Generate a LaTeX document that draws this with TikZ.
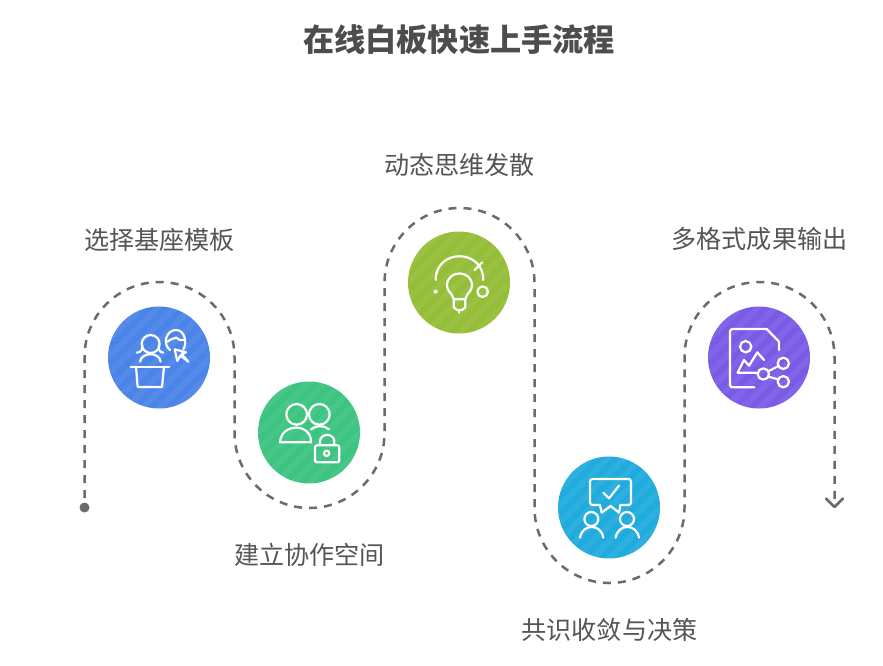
\documentclass[tikz,border=0pt]{standalone}
\usepackage{fontspec}
\setmainfont{Noto Sans CJK SC}
\usetikzlibrary{calc}
\definecolor{txt}{HTML}{555555}
\definecolor{ttl}{HTML}{4D4D4D}
\definecolor{pathc}{HTML}{6B6B6B}
\definecolor{cblue}{HTML}{4A84E8}
\definecolor{cgreen}{HTML}{3CC480}
\definecolor{clime}{HTML}{95BE38}
\definecolor{ccyan}{HTML}{20ABDD}
\definecolor{cpurple}{HTML}{7A5BE6}
\tikzset{
  badge/.style={circle,minimum size=102pt,inner sep=0pt,fill=#1,
    path picture={
      \foreach \d in {-102,-85,...,102}{
        \draw[white,opacity=.06,line width=6pt]
          ($(path picture bounding box.center)+(\d,0)+(-70,70)$) -- ++(140,-140);
      }}},
  lab/.style={text=txt,font=\fontsize{25.1}{30}\selectfont,inner sep=0pt},
  ttlstyle/.style={text=ttl,font=\fontsize{31.2}{36}\selectfont\bfseries,inner sep=0pt},
  route/.style={draw=pathc,line width=2.5pt,dash pattern=on 8pt off 7pt,dash phase=0pt},
  headstyle/.style={draw=pathc,line width=2.6pt,line cap=round,line join=round},
  icon/.style={x=.33333pt,y=-.33333pt,draw=white,line width=2.2pt,line cap=round,line join=round}
}
\begin{document}
\begin{tikzpicture}[x=1pt,y=-1pt]
\useasboundingbox (0,0) rectangle (883,665);
\fill[white] (0,0) rectangle (883,665);
\node[ttlstyle] (title) at (459,39.5) {在线白板快速上手流程};
\node[lab] (l1) at (159.5,239.5) {选择基座模板};
\node[lab] (l2) at (309.5,555) {建立协作空间};
\node[lab] (l3) at (459.5,164.5) {动态思维发散};
\node[lab] (l4) at (609.5,629.5) {共识收敛与决策};
\node[lab] (l5) at (759.5,239.5) {多格式成果输出};

\coordinate (start) at (84.5,507.5);
\coordinate (finish) at (834.5,507);
\draw[route] (84.5,498) -- (84.5,357)
  .. controls +(0,-41.4) and +(-41.4,0) .. (159.5,282)
  .. controls +(41.4,0) and +(0,-41.4) .. (234.5,357)
  -- (234.5,433)
  .. controls +(0,41.4) and +(-41.4,0) .. (309.5,508)
  .. controls +(41.4,0) and +(0,41.4) .. (384.5,433)
  -- (384.5,283)
  .. controls +(0,-41.4) and +(-41.4,0) .. (459.5,208)
  .. controls +(41.4,0) and +(0,-41.4) .. (534.5,283)
  -- (534.5,508)
  .. controls +(0,41.4) and +(-41.4,0) .. (609.5,583)
  .. controls +(41.4,0) and +(0,41.4) .. (684.5,508)
  -- (684.5,357)
  .. controls +(0,-41.4) and +(-41.4,0) .. (759.5,282)
  .. controls +(41.4,0) and +(0,-41.4) .. (834.5,357)
  -- (finish);
\fill[pathc] (start) circle[radius=5pt];
\draw[headstyle] (826,498.5) -- (finish) -- (843,498.5);

\node[badge=cblue] (n1) at (159,357.5) {};
\node[badge=cgreen] (n2) at (309,432.5) {};
\node[badge=clime] (n3) at (459,282.5) {};
\node[badge=ccyan] (n4) at (609,507.5) {};
\node[badge=cpurple] (n5) at (759,357.5) {};

% icon 1
\begin{scope}[shift={(90,290)},icon]
  \draw (182,162) ellipse[x radius=27,y radius=27];
  \draw (140,188) .. controls (155,188) and (158,175) .. (157,165);
  \draw (220,188) .. controls (207,188) and (205,175) .. (207,165);
  \draw (150,215) .. controls (155,185) and (208,185) .. (212,215);
  \draw (122,230) -- (238,230);
  \draw (138,230) -- (143,291) -- (216,291) -- (222,230);
  \draw (240,180) .. controls (215,160) and (230,120) .. (258,120) .. controls (285,120) and (292,160) .. (280,178);
  \draw (232,155) -- (243,148) -- (258,143) -- (270,150) -- (284,150);
  \draw (254,178) -- (262,213) -- (271,197) -- (295,215) -- (275,192) -- (288,187) -- cycle;
\end{scope}

% icon 2
\begin{scope}[shift={(245,370)},icon]
  \draw (155,133) ellipse[x radius=31,y radius=31];
  \draw (105,217) .. controls (108,158) and (200,158) .. (198,217) -- cycle;
  \draw (223,133) ellipse[x radius=31,y radius=31];
  \draw (198,178) .. controls (215,165) and (235,165) .. (252,178);
  \draw[rounded corners=2pt] (210,226) rectangle (283,277);
  \draw (225,226) -- (225,215) .. controls (225,188) and (268,188) .. (268,215) -- (268,226);
  \draw (245,250) ellipse[x radius=8,y radius=8];
\end{scope}

% icon 3
\begin{scope}[shift={(395,220)},icon]
  \draw (122,180) .. controls (122,85) and (265,85) .. (265,180);
  \draw (239,150) -- (262,127);
  \fill[white] (122,215) ellipse[x radius=6,y radius=6];
  \draw (263,215) ellipse[x radius=16,y radius=16];
  \draw (176,238) .. controls (172,218) and (156,215) .. (156,197)
    .. controls (156,148) and (231,148) .. (231,197)
    .. controls (231,215) and (215,218) .. (211,238) -- cycle;
  \draw (176,238) -- (176,262) -- (186,270) -- (201,270) -- (211,262) -- (211,238);
  \draw (193,270) -- (193,278);
\end{scope}

% icon 4
\begin{scope}[shift={(545,445)},icon]
  \draw[rounded corners=2.5pt] (165,180) -- (135,180) -- (135,102) -- (258,102) -- (258,180) -- (226,180);
  \draw (165,180) -- (170,203) -- (197,183) -- (222,203) -- (226,180);
  \draw (175,143) -- (192,160) -- (222,122);
  \draw (139,222) ellipse[x radius=21,y radius=21];
  \draw (246,222) ellipse[x radius=21,y radius=21];
  \draw (105,278) .. controls (112,235) and (168,235) .. (175,278);
  \draw (212,278) .. controls (219,235) and (275,235) .. (282,278);
\end{scope}

% icon 5
\begin{scope}[shift={(695,295)},icon]
  \draw[rounded corners=2.5pt] (178,277) -- (105,277) -- (105,102) -- (215,102);
  \draw (215,102) -- (252,140) -- (252,165);
  \draw (152,155) ellipse[x radius=17,y radius=17];
  \draw (207,195) -- (187,172) -- (162,212) -- (147,195) -- (128,233) -- (185,233);
  \draw (205,237) ellipse[x radius=17,y radius=17];
  \draw (265,205) ellipse[x radius=17,y radius=17];
  \draw (265,260) ellipse[x radius=17,y radius=17];
  \draw (220,229) -- (250,213);
  \draw (220,245) -- (250,253);
\end{scope}
\end{tikzpicture}
\end{document}
